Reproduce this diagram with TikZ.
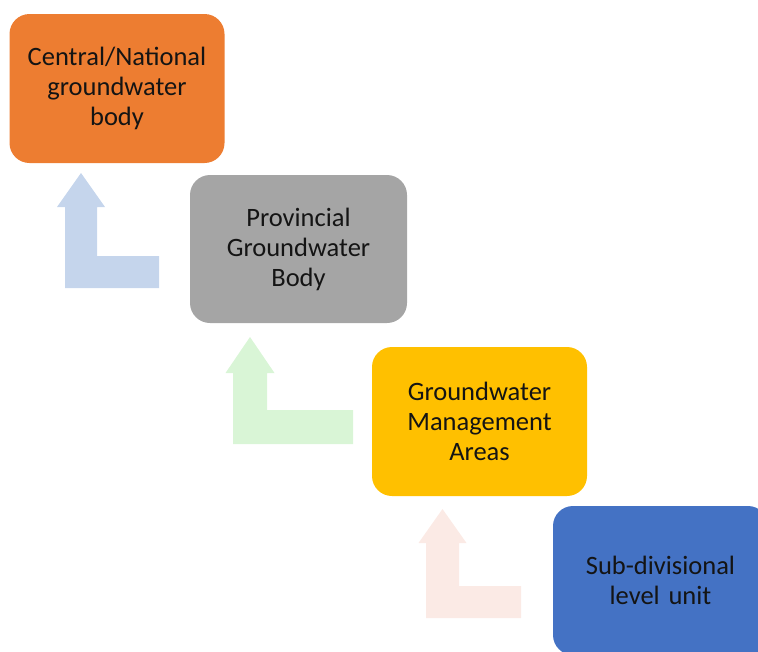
\documentclass[tikz,border=0pt]{standalone}
\usepackage{fontspec}
\setmainfont{Carlito}
\usepackage{tikz}
\usetikzlibrary{positioning}
\definecolor{boxorange}{HTML}{ED7D31}
\definecolor{boxgray}{HTML}{A5A5A5}
\definecolor{boxyellow}{HTML}{FFC000}
\definecolor{boxblue}{HTML}{4472C4}
\definecolor{arrblue}{HTML}{C5D5EC}
\definecolor{arrgreen}{HTML}{D9F5D6}
\definecolor{arrpink}{HTML}{FBEAE5}
% bent up arrow: colour, shaft left, shaft right, head half width, tip y, head base y, bar top, bottom, bar right
\newcommand{\bentup}[9]{%
 \fill[#1] (#2,#8) -- (#9,#8) -- (#9,#7) -- (#3,#7) -- (#3,#6) -- ({(#2+#3)/2+#4},#6)
  -- ({(#2+#3)/2},#5) -- ({(#2+#3)/2-#4},#6) -- (#2,#6) -- cycle;}

\begin{document}
\begin{tikzpicture}[x=1pt,y=-1pt]
 \tikzset{level/.style={rounded corners=20pt,minimum width=215pt,minimum height=149pt,
   align=center,text width=200pt,font=\fontsize{26.5}{30}\selectfont,text=black!92}}
 \useasboundingbox (0,0) rectangle (758,651);

 \bentup{arrblue}{65}{97}{24}{173}{207}{256}{288}{159}
 \bentup{arrgreen}{233}{267}{24.5}{337}{373}{410}{444}{353}
 \bentup{arrpink}{426}{459}{24}{509}{543}{586}{618}{521}

 \node[level,fill=boxorange] (C) at (117,88.5) {Central/National\\groundwater\\body};
 \node[level,fill=boxgray,minimum width=217pt,minimum height=148pt] (P) at (298.5,249) {Provincial\\Groundwater\\Body};
 \node[level,fill=boxyellow] (G) at (479.5,421.5) {Groundwater\\Management\\Areas};
 \node[level,fill=boxblue] (S) at (660.5,580.5) {Sub-divisional\\level unit};
\end{tikzpicture}
\end{document}
